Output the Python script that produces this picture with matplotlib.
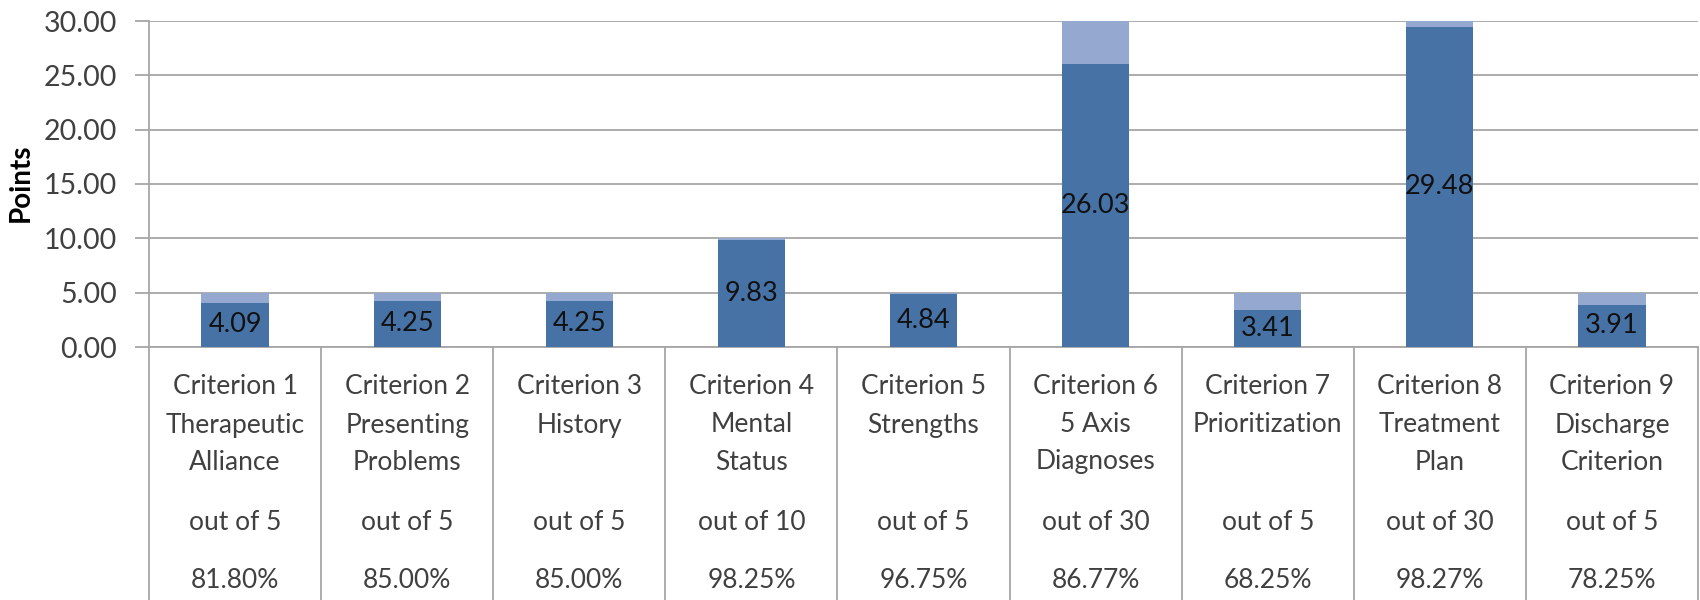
import numpy as np
import matplotlib.pyplot as plt
import matplotlib.transforms as mtransforms

plt.rcParams['font.family'] = ['Lato', 'DejaVu Sans']

criteria = ["Criterion 1\nTherapeutic\nAlliance", "Criterion 2\nPresenting\nProblems",
            "Criterion 3\nHistory", "Criterion 4\nMental\nStatus", "Criterion 5\nStrengths",
            "Criterion 6\n5 Axis\nDiagnoses", "Criterion 7\nPrioritization",
            "Criterion 8\nTreatment\nPlan", "Criterion 9\nDischarge\nCriterion"]
scores = [4.09, 4.25, 4.25, 9.83, 4.84, 26.03, 3.41, 29.48, 3.91]
max_points = [5, 5, 5, 10, 5, 30, 5, 30, 5]
out_of = ["out of 5", "out of 5", "out of 5", "out of 10", "out of 5",
          "out of 30", "out of 5", "out of 30", "out of 5"]
percents = ["81.80%", "85.00%", "85.00%", "98.25%", "96.75%",
            "86.77%", "68.25%", "98.27%", "78.25%"]

dark = "#4672a6"
light = "#95a9d0"
grid_c = "#a6a6a6"
txt_c = "#404040"

fig = plt.figure(figsize=(17, 6), dpi=100)
ax = fig.add_axes([149/1700, 1-347/600, (1698-149)/1700, (347-21)/600])

x = np.arange(len(scores))
rest = np.array(max_points) - np.array(scores)
ax.bar(x, scores, width=0.39, color=dark, zorder=3)
ax.bar(x, rest, bottom=scores, width=0.39, color=light, zorder=3)

for xi, s in zip(x, scores):
    ax.text(xi, s/2, f"{s:.2f}", ha="center", va="center", fontsize=19.5,
            color="#111111", zorder=4)

ax.set_xlim(-0.5, len(scores)-0.5)
ax.set_ylim(0, 30)
ax.set_yticks(np.arange(0, 31, 5))
ax.set_yticklabels([f"{v:.2f}" for v in np.arange(0, 31, 5)])
ax.tick_params(axis="y", length=10, width=1.3, color=grid_c, pad=13,
               labelsize=20.5, labelcolor=txt_c)
ax.tick_params(axis="x", bottom=False, labelbottom=False)
ax.yaxis.grid(True, color=grid_c, lw=1.3, zorder=0)
for sp in ["top", "right"]:
    ax.spines[sp].set_visible(False)
ax.spines["left"].set_color(grid_c)
ax.spines["left"].set_linewidth(1.3)
ax.spines["bottom"].set_color(grid_c)
ax.spines["bottom"].set_linewidth(1.3)
ax.set_ylabel("Points", fontsize=20, fontweight="bold")
ax.yaxis.set_label_coords((34-149)/1549, (347-183)/326)

# table below the axis
xt = ax.get_xaxis_transform()
for k in range(len(scores)+1):
    ax.plot([k-0.5, k-0.5], [0, -253/326], transform=xt, color=grid_c,
            lw=1.3, clip_on=False)

ft = mtransforms.blended_transform_factory(ax.transData, fig.transFigure)
name_rows = [387, 425, 462]
for xi, name, o, p in zip(x, criteria, out_of, percents):
    for line, yp in zip(name.split("\n"), name_rows):
        ax.text(xi, 1-yp/600, line, ha="center", va="center", fontsize=19,
                color=txt_c, transform=ft)
    ax.text(xi, 1-522/600, o, ha="center", va="center", fontsize=19,
            color=txt_c, transform=ft)
    ax.text(xi, 1-580/600, p, ha="center", va="center", fontsize=19,
            color=txt_c, transform=ft)

fig.savefig("out.png", dpi=100)
